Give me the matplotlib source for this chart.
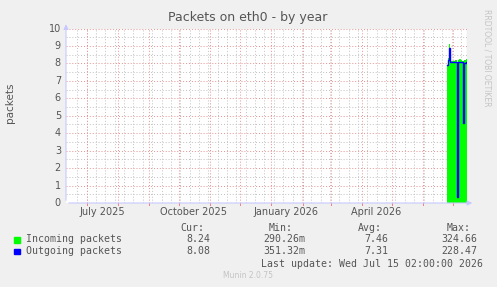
import datetime as dt
import numpy as np
import matplotlib
matplotlib.use('Agg')
import matplotlib.pyplot as plt
import matplotlib.dates as mdates

# =Data (daily samples)
end_time = dt.datetime(2026, 7, 15, 2, 0)
start_time = end_time - dt.timedelta(days=400)
first_day = dt.datetime(2026, 6, 25, 2, 0)
incoming = [7.9, 8.3, 9.1, 8.2, 8.15, 8.15, 8.15, 8.15, 8.2, 8.2, 0.29,
            8.2, 8.25, 8.25, 8.2, 8.15, 8.15, 8.2, 8.2, 8.24, 8.24]
outgoing = [7.9, 8.2, 8.9, 8.1, 8.1, 8.1, 8.1, 8.1, 8.1, 8.1, 0.35,
            8.1, 8.1, 8.1, 8.1, 8.1, 4.6, 8.05, 8.05, 8.08, 8.08]
series_names = ['Incoming packets', 'Outgoing packets']
series_colors = ['#00ff00', '#0000ff']
stats_cur = ['8.24', '8.08']
stats_min = ['290.26m', '351.32m']
stats_avg = ['7.46', '7.31']
stats_max = ['324.66', '228.47']
month_labels = ['July 2025', 'October 2025', 'January 2026', 'April 2026']
label_months = [(2025, 7), (2025, 10), (2026, 1), (2026, 4)]

BG = '#f0f0f0'
TXT = '#555555'
AXC = '#c8c8ff'
MAJ = '#e89090'
MIN = '#c0c0c0'

W, H = 497, 287
fig = plt.figure(figsize=(W / 100, H / 100), dpi=100, facecolor=BG)
L, R, T, B = 66, 467, 28.5, 203
ax = fig.add_axes([L / W, 1 - B / H, (R - L) / W, (B - T) / H])
ax.set_facecolor('white')
for s in ax.spines.values():
    s.set_visible(False)

x0 = mdates.date2num(start_time)
x1 = mdates.date2num(end_time)
ax.set_xlim(x0, x1)
ax.set_ylim(0, 10)
ax.set_xticks([])
ax.set_yticks([])

# grid
for v in np.arange(0.5, 10, 1.0):
    ax.axhline(v, color=MIN, lw=0.7, ls=(0, (1, 2)), zorder=0)
for v in range(1, 11):
    ax.axhline(v, color=MAJ, lw=0.7, ls=(0, (1, 2)), zorder=0)
for v in np.arange(x0 + 11.3, x1, 28 / 3):
    ax.axvline(v, color=MIN, lw=0.7, ls=(0, (1, 2)), zorder=0)
months = []
y, m = 2025, 7
while mdates.date2num(dt.datetime(y, m, 1)) < x1:
    months.append(mdates.date2num(dt.datetime(y, m, 1)))
    m += 1
    if m > 12:
        y, m = y + 1, 1
for v in months:
    ax.axvline(v, color=MAJ, lw=0.7, ls=(0, (1, 2)), zorder=0.5)
    ax.plot([v, v], [-0.12, 0], color='#f08080', lw=0.7, clip_on=False)

# data
days = [mdates.date2num(first_day + dt.timedelta(days=i)) for i in range(len(incoming))]
xs = np.array(days + [x1])
inc = np.array(incoming + [incoming[-1]])
out = np.array(outgoing + [outgoing[-1]])
ax.fill_between(xs, 0, inc, step='post', color=series_colors[0], lw=0, zorder=2)
ax.step(xs, out, where='post', color=series_colors[1], lw=1.0, zorder=3)
ax.axvline(x1, color='#999999', lw=0.8, zorder=4)

# axes with arrows
ax.annotate('', xy=(x1 + 8, 0), xytext=(x0, 0), xycoords='data',
            arrowprops=dict(arrowstyle='-|>', color=AXC, lw=0.8,
                            mutation_scale=7), annotation_clip=False)
ax.annotate('', xy=(x0, 10.4), xytext=(x0, 0), xycoords='data',
            arrowprops=dict(arrowstyle='-|>', color=AXC, lw=0.8,
                            mutation_scale=7), annotation_clip=False)

# tick labels
for v in range(0, 11):
    ax.text(x0 - 5, v, str(v), ha='right', va='center', fontsize=7, color=TXT)
for lab, (yy, mm) in zip(month_labels, label_months):
    xv = mdates.date2num(dt.datetime(yy, mm, 16))
    fig.text((L + (xv - x0)) / W, 1 - 212 / H, lab, ha='center', va='center',
             fontsize=7, color=TXT)

fig.text(248 / W, 1 - 18 / H, 'Packets on eth0 - by year', ha='center',
         va='center', fontsize=9, color=TXT)
fig.text(10 / W, 1 - 103 / H, 'packets', rotation=90, ha='center',
         va='center', fontsize=7.5, color=TXT)
fig.text(487 / W, 1 - 58 / H, 'RRDTOOL / TOBI OETIKER', rotation=270,
         ha='center', va='center', fontsize=5.5, color='#c4c4c4')

# legend block
mono = dict(family='DejaVu Sans Mono', fontsize=7.1, color=TXT, va='center')
for xh, lab in zip([192, 281, 370, 459], ['Cur:', 'Min:', 'Avg:', 'Max:']):
    fig.text(xh / W, 1 - 228 / H, lab, ha='center', **mono)
for i, yy in enumerate([239.5, 251.3]):
    fig.patches.append(plt.Rectangle((14 / W, 1 - (yy + 3) / H), 5.5 / W, 5.5 / H,
                                     transform=fig.transFigure,
                                     color=series_colors[i]))
    fig.text(26 / W, 1 - yy / H, series_names[i], ha='left', **mono)
    fig.text(210 / W, 1 - yy / H, stats_cur[i], ha='right', **mono)
    fig.text(305 / W, 1 - yy / H, stats_min[i], ha='right', **mono)
    fig.text(388 / W, 1 - yy / H, stats_avg[i], ha='right', **mono)
    fig.text(477 / W, 1 - yy / H, stats_max[i], ha='right', **mono)
fig.text(483 / W, 1 - 263.7 / H, 'Last update: Wed Jul 15 02:00:00 2026',
         ha='right', **mono)
fig.text(248 / W, 1 - 276 / H, 'Munin 2.0.75', ha='center', va='center',
         fontsize=5.5, color='#c4c4c4')

fig.savefig('out.png', dpi=100, facecolor=BG)
